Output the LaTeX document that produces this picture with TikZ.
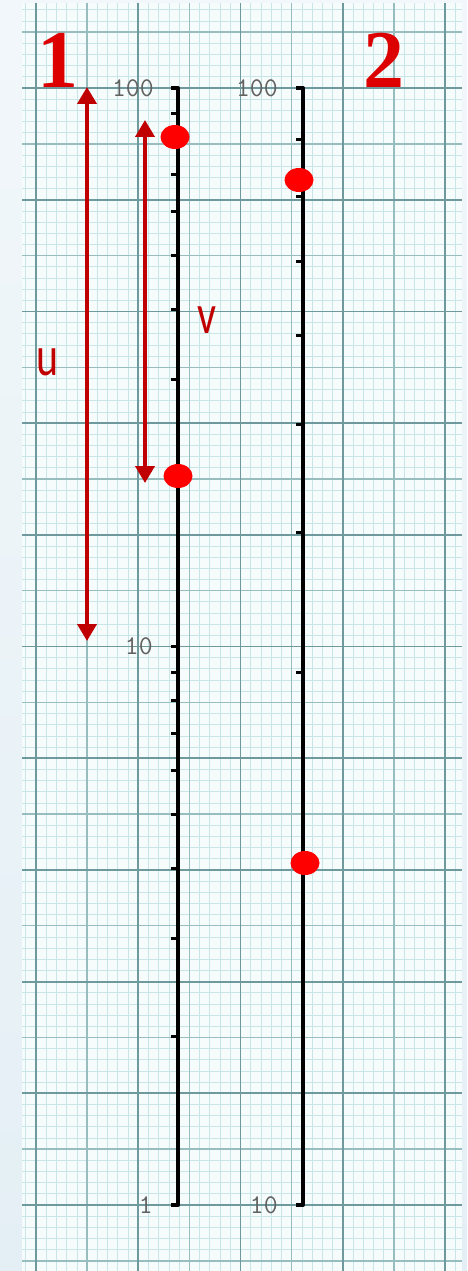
\documentclass[tikz,border=0pt]{standalone}
\usepackage{fontspec}
\newfontfamily\numfont{Liberation Serif}
\newfontfamily\letfont{Carlito}
\usetikzlibrary{arrows.meta,positioning,shapes.geometric}
\definecolor{dred}{HTML}{C00000}
\definecolor{bred}{HTML}{FF0000}
\definecolor{hred}{HTML}{DC0000}
\definecolor{gfine}{HTML}{C8E6E8}
\definecolor{gmid}{HTML}{98BDBF}
\definecolor{gdark}{HTML}{6F9A9D}
\definecolor{paper}{HTML}{F6FCFC}
\definecolor{side}{HTML}{E4EFF5}
\tikzset{
  fine/.style  ={draw=gfine,line width=.7pt},
  mid/.style   ={draw=gmid,line width=1.4pt},
  major/.style ={draw=gdark,line width=1.8pt},
  axis/.style  ={draw=black,line width=4pt,line join=round},
  tck/.style   ={draw=black,line width=3pt},
  scl/.style   ={font=\fontsize{27}{27}\selectfont\ttfamily,text=black!62,inner sep=0pt},
  num/.style   ={font=\fontsize{82}{82}\selectfont\numfont\bfseries,text=hred,inner sep=0pt},
  lbl/.style   ={font=\fontsize{56}{56}\selectfont\letfont,text=dred,inner sep=0pt,xscale=.75},
  dot/.style   ={ellipse,fill=bred,minimum width=29pt,minimum height=24pt,inner sep=0pt},
  arr/.style   ={{Triangle[length=17pt,width=19pt]}-{Triangle[length=17pt,width=19pt]},
                 line width=4pt,dred},
}
\begin{document}
\begin{tikzpicture}[x=1pt,y=-1pt]
  \useasboundingbox (0,0) rectangle (467,1271);
  % --- backdrop ---
  \shade[top color=side!50,bottom color=side] (0,0) rectangle (467,1271);
  \fill[paper] (22,3) rectangle (462,1271);

  % --- graph paper ---
  \begin{scope}
    \clip (22,3) rectangle (462,1271);
    \foreach \i in {-1,...,42}
      \draw[fine] ({36+10.225*(\i)},3) -- ({36+10.225*(\i)},1271);
    \foreach \j in {-8,...,106}
      \draw[fine] (22,{88+11.17*(\j)}) -- (462,{88+11.17*(\j)});
    \foreach \i in {-5,0,...,40}
      \draw[mid] ({36+10.225*(\i)},3) -- ({36+10.225*(\i)},1271);
    \foreach \j in {-5,0,...,105}
      \draw[mid] (22,{88+11.17*(\j)}) -- (462,{88+11.17*(\j)});
    \foreach \i in {0,10,...,40}
      \draw[major] ({36+10.225*(\i)},3) -- ({36+10.225*(\i)},1271);
    \foreach \j in {0,10,...,100}
      \draw[major] (22,{88+11.17*(\j)}) -- (462,{88+11.17*(\j)});
  \end{scope}

  % --- scale 1 (two decades) ---
  \coordinate (a1top) at (178,88);
  \coordinate (a1mid) at (178,646);
  \coordinate (a1bot) at (178,1205);
  \draw[axis] ([xshift=-7pt]a1top) -- (a1top) -- (a1bot) -- ([xshift=-7pt]a1bot);
  \draw[tck] (a1mid) -- ++(-7,0);
  \foreach \v in {2,...,9}{
    \draw[tck] (178,{646-558.5*log10(\v)}) -- ++(-7,0);
    \draw[tck] (178,{1205-558.5*log10(\v)}) -- ++(-7,0);
  }
  \node[scl,left=24pt of a1top] (l100) {100};
  \node[scl,left=25pt of a1mid] (l10) {10};
  \node[scl,left=25pt of a1bot] (l1) {1};

  % --- scale 2 (one decade) ---
  \coordinate (a2top) at (303,88);
  \coordinate (a2bot) at (303,1205);
  \draw[axis] ([xshift=-7pt]a2top) -- (a2top) -- (a2bot) -- ([xshift=-7pt]a2bot);
  \foreach \v in {2,...,9}
    \draw[tck] (303,{1205-1117*log10(\v)}) -- ++(-7,0);
  \node[scl,left=25pt of a2top] (m100) {100};
  \node[scl,left=25pt of a2bot] (m10) {10};

  % headings
  \node[num] (h1) at (58,60) {1};
  \node[num] (h2) at (384,60) {2};

  % readings
  \node[dot] (p1) at (175,137) {};
  \node[dot] (p2) at (178,476) {};
  \node[dot] (q1) at (299,180) {};
  \node[dot] (q2) at (305,863) {};

  % lengths u and v
  \coordinate (uTop) at (87,87);
  \coordinate (uBot) at (87,641);
  \draw[arr] (uTop) -- (uBot);
  \node[lbl] (ulab) at (48,362) {u};
  \coordinate (vTop) at (145,120);
  \coordinate (vBot) at (145,483);
  \draw[arr] (vTop) -- (vBot);
  \node[lbl] (vlab) at (207,320) {v};
\end{tikzpicture}
\end{document}
